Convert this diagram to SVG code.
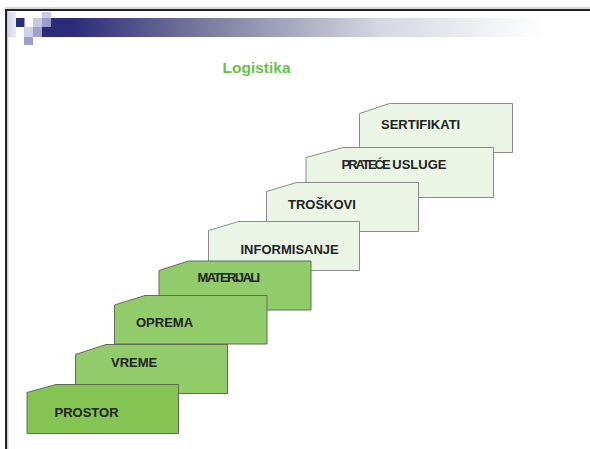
<svg xmlns="http://www.w3.org/2000/svg" width="590" height="449" viewBox="0 0 590 449">
<defs>
<linearGradient id="bar" gradientUnits="userSpaceOnUse" x1="42" y1="0" x2="560" y2="0">
<stop offset="0" stop-color="#2a2c78"/>
<stop offset="0.06" stop-color="#2b2d7a"/>
<stop offset="0.3" stop-color="#77779c"/>
<stop offset="0.65" stop-color="#d4d7e1"/>
<stop offset="0.97" stop-color="#ffffff"/>
</linearGradient>
<linearGradient id="strip" x1="0" y1="0" x2="1" y2="0">
<stop offset="0" stop-color="#d4d4ea"/>
<stop offset="1" stop-color="#ececf6"/>
</linearGradient>
</defs>
<style>
.lt{fill:#eaf5e6;stroke:#8a8a8a;stroke-width:1}
.gr{fill:#92cb6a;stroke:#626a5a;stroke-width:1}
.dk{fill:#84c452;stroke:#626a5a;stroke-width:1}
.lbl{font-family:"Liberation Sans",Arial,sans-serif;font-weight:bold;font-size:13px;fill:#222222}
.tight{letter-spacing:-1.6px}
.title{font-family:"Liberation Sans",Arial,sans-serif;font-weight:bold;font-size:15.5px;fill:#6cbf4a}
</style>
<g id="frame">
<line x1="5" y1="8" x2="590" y2="8" stroke="#b4b4b4" stroke-width="1.2"/>
<path d="M6,449 V10 H590" fill="none" stroke="#222222" stroke-width="2"/>
<line x1="7.8" y1="11" x2="7.8" y2="449" stroke="#b4b4b4" stroke-width="1"/>
</g>
<g id="header">
<rect x="42" y="18" width="548" height="19" fill="url(#bar)"/>
<rect x="8" y="12" width="8" height="25" fill="url(#strip)"/>
<rect x="16" y="18" width="8.5" height="9" fill="#2b2d78"/>
<rect x="33" y="18" width="9" height="9" fill="#c8c8e2"/>
<rect x="42" y="12" width="9" height="6" fill="#c9c9e3"/>
<rect x="42" y="18" width="9" height="9" fill="#9c9ccc"/>
<rect x="24" y="27" width="9" height="10" fill="#cfcfe6"/>
<rect x="33" y="27" width="9" height="10" fill="#a0a0d0"/>
<rect x="24" y="37" width="9" height="8" fill="#9d9dcf"/>
</g>
<text id="title" class="title" x="222.5" y="72.5">Logistika</text>
<g id="sertifikati">
<polygon class="lt" points="359.5,113.5 389.5,103.5 512.5,103.5 512.5,152.5 359.5,152.5"/>
<text class="lbl" x="381" y="129">SERTIFIKATI</text>
</g>
<g id="pratece-usluge">
<polygon class="lt" points="306,157.5 343,147.5 493.5,147.5 493.5,197.5 306,197.5"/>
<text class="lbl" x="341.5" y="169"><tspan letter-spacing="-2px">PRATEĆE</tspan> USLUGE</text>
</g>
<g id="troskovi">
<polygon class="lt" points="266.5,191.5 296.5,182.5 418.5,182.5 418.5,231.5 266.5,231.5"/>
<text class="lbl" x="288" y="208.5">TROŠKOVI</text>
</g>
<g id="informisanje">
<polygon class="lt" points="208.5,230.5 238.5,221.5 359.5,221.5 359.5,270.5 208.5,270.5"/>
<text class="lbl" x="240.5" y="254">INFORMISANJE</text>
</g>
<g id="materijali">
<polygon class="gr" points="159,270.5 188.5,261 311,261 311,310 159,310"/>
<text class="lbl tight" x="197.5" y="281.5">MATERIJALI</text>
</g>
<g id="oprema">
<polygon class="gr" points="114.5,305 145,295.5 267,295.5 267,344 114.5,344"/>
<text class="lbl" x="136" y="326.5">OPREMA</text>
</g>
<g id="vreme">
<polygon class="gr" points="75.5,354.5 106,344.5 227.5,344.5 227.5,393.5 75.5,393.5"/>
<text class="lbl" x="111" y="367.3">VREME</text>
</g>
<g id="prostor">
<polygon class="dk" points="27,392.5 56,384.5 178.5,384.5 178.5,433.5 27,433.5"/>
<text class="lbl" x="54.5" y="416.7">PROSTOR</text>
</g>
</svg>
